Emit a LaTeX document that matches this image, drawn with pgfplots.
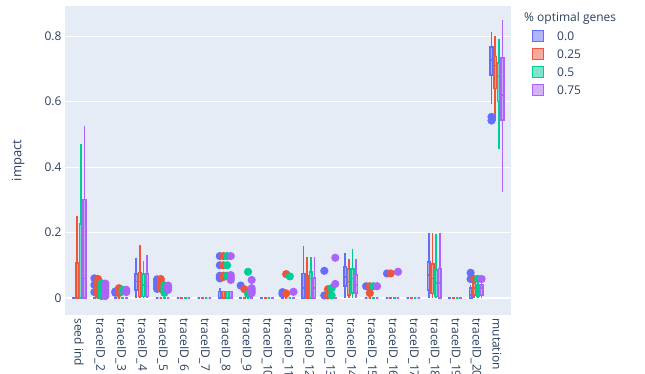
\documentclass[border=0pt]{standalone}
\usepackage{fontspec}
\setmainfont{Open Sans}
\usepackage{pgfplots}
\pgfplotsset{compat=1.18}
\usepgfplotslibrary{statistics}

\definecolor{cB}{HTML}{636EFA}
\definecolor{cR}{HTML}{EF553B}
\definecolor{cG}{HTML}{00CC96}
\definecolor{cP}{HTML}{AB63FA}
\definecolor{txt}{HTML}{2A3F5F}
\definecolor{bgc}{HTML}{E5ECF6}

\newcommand{\fs}{\fontsize{12}{14}\selectfont}

\pgfplotsset{
  bx/.style={boxplot/draw direction=y, boxplot/box extend=0.12, boxplot/whisker extend=0,
    draw=#1, fill=#1, fill opacity=0.5, draw opacity=1, line width=1.7pt,
    mark=*, mark size=3.2pt, mark options={draw=none, fill=#1, fill opacity=1, solid}},
  % a box whose five numbers are all zero
  zb/.style={boxplot prepared={draw position=#1, lower whisker=0, lower quartile=0,
    median=0, upper quartile=0, upper whisker=0}},
}

\begin{document}
\begin{tikzpicture}
\begin{axis}[
  at={(0,0)}, anchor=south west,
  scale only axis, width=446pt, height=309pt,
  xmin=-0.67, xmax=20.67, ymin=-0.0519, ymax=0.8916,
  axis line style={draw=none}, major tick length=0pt,
  axis background/.style={fill=bgc},
  ymajorgrids, grid style={white, line width=1pt},
  ytick={0.2,0.4,0.6,0.8},
  extra y ticks={0}, extra y tick style={grid style={white, line width=2pt}},
  /pgf/number format/assume math mode=true,
  yticklabel={\pgfmathprintnumber[fixed,precision=1]{\tick}},
  yticklabel style={font=\fs, text=txt},
  xtick={0,...,20},
  xticklabels={seed ind, traceID\_2, traceID\_3, traceID\_4, traceID\_5, traceID\_6,
    traceID\_7, traceID\_8, traceID\_9, traceID\_10, traceID\_11, traceID\_12,
    traceID\_13, traceID\_14, traceID\_15, traceID\_16, traceID\_17, traceID\_18,
    traceID\_19, traceID\_20, mutation},
  xticklabel style={rotate=-90, anchor=west, font=\fs, text=txt},
  ylabel={impact},
  every axis y label/.style={at={(axis description cs:-0.105,0.5)}, anchor=center,
    rotate=90, font=\fontsize{13}{15}\selectfont, text=txt},
]
% seed ind
\addplot[bx=cB, zb=-0.2625] coordinates {};
\addplot[bx=cR, boxplot prepared={draw position=-0.0875, lower whisker=0, lower quartile=0, median=0, upper quartile=0.107, upper whisker=0.250}] coordinates {};
\addplot[bx=cG, boxplot prepared={draw position=0.0875, lower whisker=0, lower quartile=0, median=0, upper quartile=0.226, upper whisker=0.470}] coordinates {};
\addplot[bx=cP, boxplot prepared={draw position=0.2625, lower whisker=0, lower quartile=0, median=0.06, upper quartile=0.301, upper whisker=0.526}] coordinates {};
% traceID_2
\addplot[bx=cB, zb=0.7375] coordinates {(0,0.060) (0,0.040) (0,0.018)};
\addplot[bx=cR, zb=0.9125] coordinates {(0,0.058) (0,0.050) (0,0.040) (0,0.030) (0,0.020) (0,0.010)};
\addplot[bx=cG, zb=1.0875] coordinates {(0,0.045) (0,0.035) (0,0.025) (0,0.015) (0,0.006)};
\addplot[bx=cP, zb=1.2625] coordinates {(0,0.044) (0,0.035) (0,0.025) (0,0.015) (0,0.006)};
% traceID_3
\addplot[bx=cB, zb=1.7375] coordinates {(0,0.020) (0,0.016)};
\addplot[bx=cR, zb=1.9125] coordinates {(0,0.030) (0,0.022) (0,0.015)};
\addplot[bx=cG, zb=2.0875] coordinates {(0,0.025) (0,0.020)};
\addplot[bx=cP, zb=2.2625] coordinates {(0,0.025) (0,0.018)};
% traceID_4
\addplot[bx=cB, boxplot prepared={draw position=2.7375, lower whisker=0, lower quartile=0.025, median=0.05, upper quartile=0.073, upper whisker=0.121}] coordinates {};
\addplot[bx=cR, boxplot prepared={draw position=2.9125, lower whisker=0, lower quartile=0.005, median=0.05, upper quartile=0.078, upper whisker=0.163}] coordinates {};
\addplot[bx=cG, boxplot prepared={draw position=3.0875, lower whisker=0, lower quartile=0.005, median=0.04, upper quartile=0.073, upper whisker=0.113}] coordinates {};
\addplot[bx=cP, boxplot prepared={draw position=3.2625, lower whisker=0, lower quartile=0.005, median=0.035, upper quartile=0.073, upper whisker=0.132}] coordinates {};
% traceID_5
\addplot[bx=cB, zb=3.7375] coordinates {(0,0.057) (0,0.050) (0,0.042) (0,0.035) (0,0.028)};
\addplot[bx=cR, zb=3.9125] coordinates {(0,0.058) (0,0.050) (0,0.042) (0,0.035) (0,0.028)};
\addplot[bx=cG, zb=4.0875] coordinates {(0,0.038) (0,0.030) (0,0.022) (0,0.016)};
\addplot[bx=cP, zb=4.2625] coordinates {(0,0.038) (0,0.032) (0,0.025)};
% traceID_6
\addplot[bx=cB, zb=4.7375] coordinates {};
\addplot[bx=cR, zb=4.9125] coordinates {};
\addplot[bx=cG, zb=5.0875] coordinates {};
\addplot[bx=cP, zb=5.2625] coordinates {};
% traceID_7
\addplot[bx=cB, zb=5.7375] coordinates {};
\addplot[bx=cR, zb=5.9125] coordinates {};
\addplot[bx=cG, zb=6.0875] coordinates {};
\addplot[bx=cP, zb=6.2625] coordinates {};
% traceID_8
\addplot[bx=cB, boxplot prepared={draw position=6.7375, lower whisker=0, lower quartile=0, median=0, upper quartile=0.02, upper whisker=0.03}] coordinates {(0,0.128) (0,0.100) (0,0.068) (0,0.060)};
\addplot[bx=cR, boxplot prepared={draw position=6.9125, lower whisker=0, lower quartile=0, median=0, upper quartile=0.02, upper whisker=0.02}] coordinates {(0,0.128) (0,0.100) (0,0.068) (0,0.064)};
\addplot[bx=cG, boxplot prepared={draw position=7.0875, lower whisker=0, lower quartile=0, median=0, upper quartile=0.02, upper whisker=0.02}] coordinates {(0,0.128) (0,0.100) (0,0.068)};
\addplot[bx=cP, boxplot prepared={draw position=7.2625, lower whisker=0, lower quartile=0, median=0, upper quartile=0.02, upper whisker=0.02}] coordinates {(0,0.128) (0,0.070) (0,0.062) (0,0.055)};
% traceID_9
\addplot[bx=cB, zb=7.7375] coordinates {(0,0.038)};
\addplot[bx=cR, zb=7.9125] coordinates {(0,0.027)};
\addplot[bx=cG, zb=8.0875] coordinates {(0,0.080) (0,0.012)};
\addplot[bx=cP, zb=8.2625] coordinates {(0,0.055) (0,0.030) (0,0.022) (0,0.015)};
% traceID_10
\addplot[bx=cB, zb=8.7375] coordinates {};
\addplot[bx=cR, zb=8.9125] coordinates {};
\addplot[bx=cG, zb=9.0875] coordinates {};
\addplot[bx=cP, zb=9.2625] coordinates {};
% traceID_11
\addplot[bx=cB, zb=9.7375] coordinates {(0,0.018) (0,0.012)};
\addplot[bx=cR, zb=9.9125] coordinates {(0,0.073) (0,0.014)};
\addplot[bx=cG, zb=10.0875] coordinates {(0,0.066)};
\addplot[bx=cP, zb=10.2625] coordinates {(0,0.019)};
% traceID_12
\addplot[bx=cB, boxplot prepared={draw position=10.7375, lower whisker=0, lower quartile=0, median=0.03, upper quartile=0.075, upper whisker=0.160}] coordinates {};
\addplot[bx=cR, boxplot prepared={draw position=10.9125, lower whisker=0, lower quartile=0, median=0.03, upper quartile=0.067, upper whisker=0.124}] coordinates {};
\addplot[bx=cG, boxplot prepared={draw position=11.0875, lower whisker=0, lower quartile=0, median=0.06, upper quartile=0.080, upper whisker=0.124}] coordinates {};
\addplot[bx=cP, boxplot prepared={draw position=11.2625, lower whisker=0, lower quartile=0, median=0.03, upper quartile=0.062, upper whisker=0.124}] coordinates {};
% traceID_13
\addplot[bx=cB, zb=11.7375] coordinates {(0,0.083) (0,0.008)};
\addplot[bx=cR, zb=11.9125] coordinates {(0,0.027) (0,0.008)};
\addplot[bx=cG, zb=12.0875] coordinates {(0,0.030) (0,0.008)};
\addplot[bx=cP, zb=12.2625] coordinates {(0,0.123) (0,0.043)};
% traceID_14
\addplot[bx=cB, boxplot prepared={draw position=12.7375, lower whisker=0, lower quartile=0.037, median=0.065, upper quartile=0.094, upper whisker=0.138}] coordinates {};
\addplot[bx=cR, boxplot prepared={draw position=12.9125, lower whisker=0, lower quartile=0.010, median=0.05, upper quartile=0.088, upper whisker=0.119}] coordinates {};
\addplot[bx=cG, boxplot prepared={draw position=13.0875, lower whisker=0, lower quartile=0.015, median=0.06, upper quartile=0.088, upper whisker=0.149}] coordinates {};
\addplot[bx=cP, boxplot prepared={draw position=13.2625, lower whisker=0, lower quartile=0.016, median=0.04, upper quartile=0.070, upper whisker=0.118}] coordinates {};
% traceID_15
\addplot[bx=cB, zb=13.7375] coordinates {(0,0.036)};
\addplot[bx=cR, zb=13.9125] coordinates {(0,0.036) (0,0.015)};
\addplot[bx=cG, zb=14.0875] coordinates {(0,0.036)};
\addplot[bx=cP, zb=14.2625] coordinates {(0,0.036)};
% traceID_16
\addplot[bx=cB, zb=14.7375] coordinates {(0,0.075)};
\addplot[bx=cR, zb=14.9125] coordinates {(0,0.075)};
\addplot[bx=cG, zb=15.0875] coordinates {};
\addplot[bx=cP, zb=15.2625] coordinates {(0,0.080)};
% traceID_17
\addplot[bx=cB, zb=15.7375] coordinates {};
\addplot[bx=cR, zb=15.9125] coordinates {};
\addplot[bx=cG, zb=16.0875] coordinates {};
\addplot[bx=cP, zb=16.2625] coordinates {};
% traceID_18
\addplot[bx=cB, boxplot prepared={draw position=16.7375, lower whisker=0, lower quartile=0.024, median=0.07, upper quartile=0.111, upper whisker=0.200}] coordinates {};
\addplot[bx=cR, boxplot prepared={draw position=16.9125, lower whisker=0, lower quartile=0.014, median=0.06, upper quartile=0.103, upper whisker=0.200}] coordinates {};
\addplot[bx=cG, boxplot prepared={draw position=17.0875, lower whisker=0, lower quartile=0.005, median=0.045, upper quartile=0.085, upper whisker=0.194}] coordinates {};
\addplot[bx=cP, boxplot prepared={draw position=17.2625, lower whisker=0, lower quartile=0, median=0.045, upper quartile=0.090, upper whisker=0.198}] coordinates {};
% traceID_19
\addplot[bx=cB, zb=17.7375] coordinates {};
\addplot[bx=cR, zb=17.9125] coordinates {};
\addplot[bx=cG, zb=18.0875] coordinates {};
\addplot[bx=cP, zb=18.2625] coordinates {};
% traceID_20
\addplot[bx=cB, boxplot prepared={draw position=18.7375, lower whisker=0, lower quartile=0, median=0.01, upper quartile=0.03, upper whisker=0.04}] coordinates {(0,0.077) (0,0.058)};
\addplot[bx=cR, boxplot prepared={draw position=18.9125, lower whisker=0, lower quartile=0.01, median=0.03, upper quartile=0.045, upper whisker=0.05}] coordinates {(0,0.058)};
\addplot[bx=cG, boxplot prepared={draw position=19.0875, lower whisker=0, lower quartile=0.005, median=0.03, upper quartile=0.04, upper whisker=0.045}] coordinates {(0,0.058)};
\addplot[bx=cP, boxplot prepared={draw position=19.2625, lower whisker=0, lower quartile=0.01, median=0.03, upper quartile=0.04, upper whisker=0.045}] coordinates {(0,0.058)};
% mutation
\addplot[bx=cB, boxplot prepared={draw position=19.7375, lower whisker=0.592, lower quartile=0.681, median=0.727, upper quartile=0.766, upper whisker=0.812}] coordinates {(0,0.553) (0,0.542)};
\addplot[bx=cR, boxplot prepared={draw position=19.9125, lower whisker=0.541, lower quartile=0.640, median=0.710, upper quartile=0.737, upper whisker=0.801}] coordinates {};
\addplot[bx=cG, boxplot prepared={draw position=20.0875, lower whisker=0.455, lower quartile=0.600, median=0.676, upper quartile=0.717, upper whisker=0.791}] coordinates {};
\addplot[bx=cP, boxplot prepared={draw position=20.2625, lower whisker=0.323, lower quartile=0.544, median=0.620, upper quartile=0.733, upper whisker=0.848}] coordinates {};
\end{axis}

% legend
\node[anchor=west, inner sep=0pt, font=\fs, text=txt] at (459pt,297pt) {\% optimal genes};
\foreach \c/\lab/\yy in {cB/0.0/279, cR/0.25/261, cG/0.5/243, cP/0.75/225} {
  \draw[\c, line width=1.7pt, fill=\c, fill opacity=0.5] (467.5pt,\yy pt-5.5pt) rectangle (478.5pt,\yy pt+5.5pt);
  \node[anchor=west, inner sep=0pt, font=\fs, text=txt] at (492pt,\yy pt) {\lab};
}

\pgfresetboundingbox
\path[use as bounding box] (-65pt,-58pt) rectangle (580pt,315pt);
\end{tikzpicture}
\end{document}
